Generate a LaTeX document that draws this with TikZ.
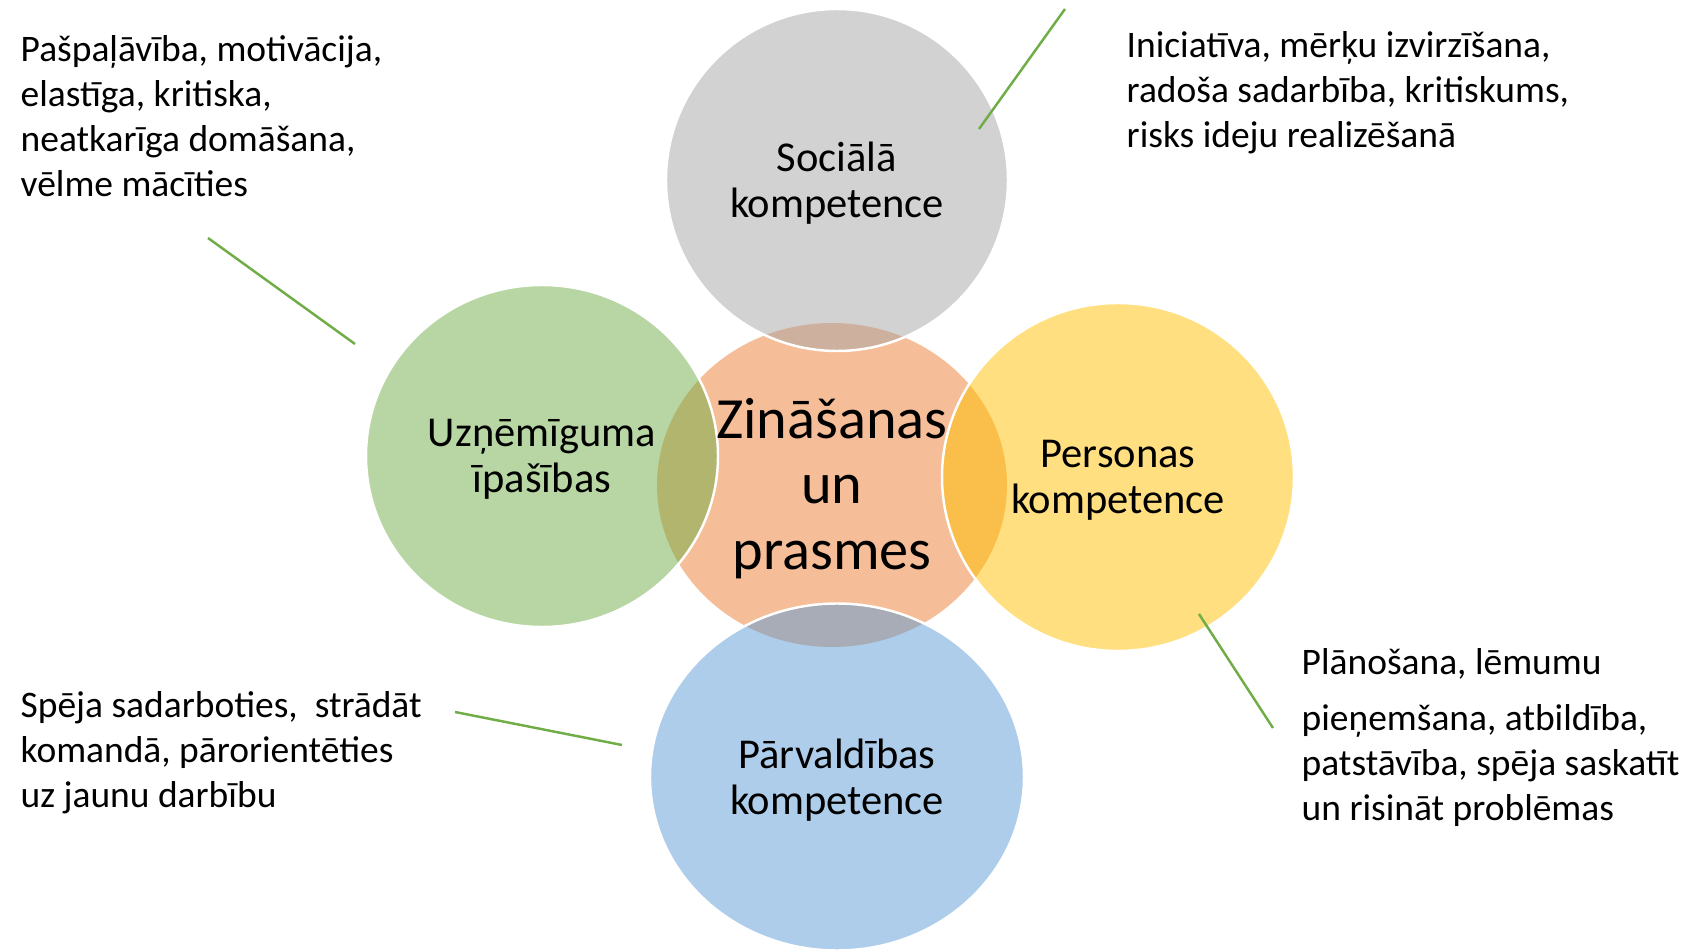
\documentclass[tikz,border=0pt]{standalone}
\usepackage{fontspec}
\setmainfont{Carlito}
\usetikzlibrary{shapes.geometric}
\definecolor{accorange}{HTML}{ED7D31}
\definecolor{accgray}{HTML}{A5A5A5}
\definecolor{accgreen}{HTML}{70AD47}
\definecolor{accyellow}{HTML}{FFC000}
\definecolor{accblue}{HTML}{5B9BD5}

\begin{document}
\begin{tikzpicture}[
    x=0.1mm, y=-0.1mm,
    blob/.style={ellipse, inner sep=0pt, fill opacity=0.5},
    rim/.style={draw=white, line width=0.7pt},
    tag/.style={align=center, yshift=-0.35mm, font=\fontsize{12.1}{13.1}\selectfont},
    note/.style={anchor=north west, inner sep=0pt, align=left, font=\fontsize{10.66}{12.8}\selectfont},
    lead/.style={draw=accgreen, line width=0.7pt}
]
\path[use as bounding box] (0,0) rectangle (1686,952);

\node[blob, fill=accorange, minimum width=35mm, minimum height=32.4mm] (zin) at (832,485) {};
\node[blob, rim, fill=accgray, minimum width=34.2mm, minimum height=34.2mm] (soc) at (837,180) {};
\node[blob, rim, fill=accgreen, minimum width=35.2mm, minimum height=34.2mm] (uzn) at (542,456) {};
\node[blob, rim, fill=accyellow, minimum width=35.2mm, minimum height=34.8mm] (pers) at (1118,477) {};
\node[blob, rim, fill=accblue, minimum width=37.4mm, minimum height=34.7mm] (parv) at (837,777) {};

\node[tag] (soctxt) at (soc) {Sociālā\\kompetence};
\node[tag] (uzntxt) at (uzn) {Uzņēmīguma\\īpašības};
\node[tag] (perstxt) at (pers) {Personas\\kompetence};
\node[tag] (parvtxt) at (parv) {Pārvaldības\\kompetence};
\node[tag, font=\fontsize{16.6}{18.6}\selectfont] (zintxt) at (zin) {Zināšanas\\un\\prasmes};

\node[note] (n1) at (20,35) {Pašpaļāvība, motivācija,\\elastīga, kritiska,\\neatkarīga domāšana,\\vēlme mācīties};
\node[note] (n2) at (1126,31) {Iniciatīva, mērķu izvirzīšana,\\radoša sadarbība, kritiskums,\\risks ideju realizēšanā};
\node[note] (n3) at (1301,648) {Plānošana, lēmumu\\[3.1pt]pieņemšana, atbildība,\\patstāvība, spēja saskatīt\\un risināt problēmas};
\node[note] (n4) at (20,691) {Spēja sadarboties,\ \ strādāt\\komandā, pārorientēties\\uz jaunu darbību};

\coordinate (l1a) at (208,238); \coordinate (l1b) at (355,344);
\coordinate (l2a) at (1065,9);  \coordinate (l2b) at (979,129);
\coordinate (l3a) at (1199,614); \coordinate (l3b) at (1273,728);
\coordinate (l4a) at (455,712); \coordinate (l4b) at (622,745);
\draw[lead] (l1a) -- (l1b);
\draw[lead] (l2a) -- (l2b);
\draw[lead] (l3a) -- (l3b);
\draw[lead] (l4a) -- (l4b);
\end{tikzpicture}
\end{document}
